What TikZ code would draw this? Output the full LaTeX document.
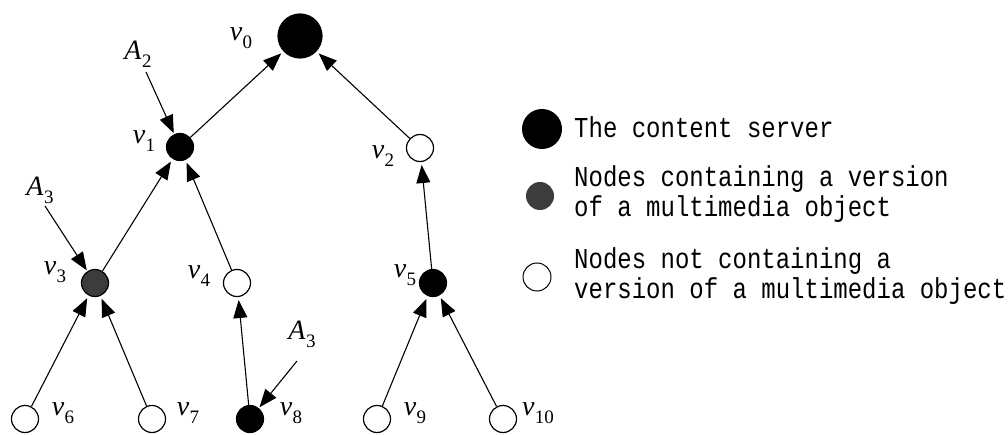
\documentclass[tikz,border=0pt]{standalone}
\usepackage{fontspec}
\setmainfont{Liberation Serif}
\setmonofont{Liberation Mono}
\usetikzlibrary{arrows.meta}
\newcommand{\sublab}[2]{\textit{#1}\kern0.5pt\raisebox{-8pt}{\fontsize{19}{19}\selectfont #2}}
\definecolor{darkfill}{RGB}{60,60,60}
\tikzset{
  nd/.style={circle, draw=black, line width=1.2pt, minimum size=27pt, inner sep=0pt, fill=white},
  blk/.style={nd, fill=black},
  gry/.style={nd, fill=darkfill},
  edge/.style={-{Triangle[length=18pt,width=14pt]}, line width=1.1pt, shorten >=3pt},
  lbl/.style={font=\fontsize{28}{28}\selectfont, inner sep=0pt},
  leg/.style={font=\ttfamily\fontsize{24}{29}\selectfont, anchor=west, align=left, inner sep=0pt}
}
\begin{document}
\begin{tikzpicture}[x=1pt,y=-1pt]
\useasboundingbox (0,0) rectangle (1008,435);
% nodes
\node[blk, minimum size=44pt] (v0) at (300,36) {};
\node[blk] (v1) at (180,147) {};
\node[nd] (v2) at (420,148) {};
\node[gry] (v3) at (95,283) {};
\node[nd] (v4) at (237,283) {};
\node[blk] (v5) at (433,283) {};
\node[nd] (v6) at (25,419) {};
\node[nd] (v7) at (152,419) {};
\node[blk] (v8) at (250,419) {};
\node[nd] (v9) at (377,419) {};
\node[nd] (v10) at (503,419) {};
% labels
\node[lbl] (l0) at (241,38) {\sublab{v}{0}};
\node[lbl] (l1) at (144,141) {\sublab{v}{1}};
\node[lbl] (l2) at (383,156) {\sublab{v}{2}};
\node[lbl] (l3) at (55,272) {\sublab{v}{3}};
\node[lbl] (l4) at (199,276) {\sublab{v}{4}};
\node[lbl] (l5) at (405,275) {\sublab{v}{5}};
\node[lbl] (l6) at (63,413) {\sublab{v}{6}};
\node[lbl] (l7) at (188,413) {\sublab{v}{7}};
\node[lbl] (l8) at (291,413) {\sublab{v}{8}};
\node[lbl] (l9) at (415,413) {\sublab{v}{9}};
\node[lbl] (l10) at (538,413) {\sublab{v}{10}};
\node[lbl] (la2) at (138,54) {\sublab{A}{2}};
\node[lbl] (la3a) at (40,190) {\sublab{A}{3}};
\node[lbl] (la3b) at (302,334) {\sublab{A}{3}};
% edges
\draw[edge] (v1) -- (v0);
\draw[edge] (v2) -- (v0);
\draw[edge] (v3) -- (v1);
\draw[edge] (v4) -- (v1);
\draw[edge] (v5) -- (v2);
\draw[edge] (v8) -- (v4);
\draw[edge] (v6) -- (v3);
\draw[edge] (v7) -- (v3);
\draw[edge] (v9) -- (v5);
\draw[edge] (v10) -- (v5);
% annotation arrows
\coordinate (a2s) at (146,72);
\coordinate (a3s) at (45,206);
\coordinate (a3t) at (297,361);
\draw[edge, shorten >=1pt] (a2s) -- (v1);
\draw[edge, shorten >=1pt] (a3s) -- (v3);
\draw[edge, shorten >=1pt] (a3t) -- (v8);
% legend
\node[blk, minimum size=40pt, draw=none] (g1) at (542,129) {};
\node[gry, minimum size=28pt, draw=none] (g2) at (540,196) {};
\node[nd, minimum size=28pt, line width=1pt] (g3) at (537,277) {};
\node[leg] (t1) at (574,127) {\scalebox{1}[1.2]{The content server}};
\node[leg] (t2) at (574,194) {\scalebox{1}[1.2]{Nodes containing a version}\\[1pt]\scalebox{1}[1.2]{of a multimedia object}};
\node[leg] (t3) at (574,276) {\scalebox{1}[1.2]{Nodes not containing a}\\[1pt]\scalebox{1}[1.2]{version of a multimedia object}};
\end{tikzpicture}
\end{document}
